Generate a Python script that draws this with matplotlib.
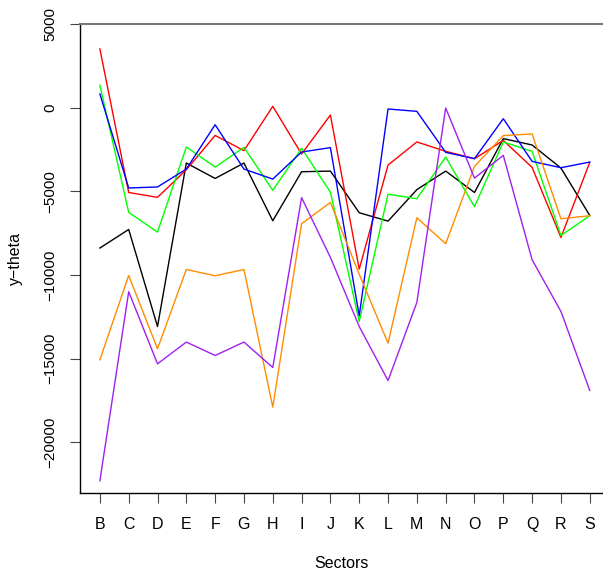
import matplotlib

matplotlib.use("Agg")
import matplotlib.pyplot as plt

plt.rcParams["font.family"] = ["Liberation Sans", "DejaVu Sans"]

sectors = ["B", "C", "D", "E", "F", "G", "H", "I", "J",
           "K", "L", "M", "N", "O", "P", "Q", "R", "S"]

black = [-8390, -7280, -13080, -3310, -4230, -3310, -6760, -3830, -3790,
         -6280, -6780, -4900, -3790, -5070, -1850, -2230, -3610, -6440]
red = [3510, -5070, -5360, -3710, -1660, -2570, 80, -2770, -440,
       -9650, -3430, -2050, -2610, -3050, -1960, -3570, -7760, -3270]
green = [1340, -6260, -7440, -2350, -3550, -2370, -4940, -2430, -5050,
         -12780, -5170, -5440, -2950, -5920, -2050, -2610, -7640, -6460]
blue = [820, -4800, -4740, -3670, -1020, -3670, -4270, -2650, -2390,
        -12440, -80, -220, -2670, -3050, -660, -3210, -3590, -3250]
orange = [-15070, -10030, -14410, -9670, -10050, -9670, -17900, -6940, -5660,
          -9950, -14070, -6580, -8130, -3510, -1670, -1570, -6640, -6460]
purple = [-22300, -11000, -15310, -14010, -14810, -14010, -15530, -5380, -8950,
          -13080, -16310, -11640, -20, -4210, -2850, -9090, -12180, -16900]

series = [
    (black, "black"),
    (red, "#FF0000"),
    (green, "#00FF00"),
    (blue, "#0000FF"),
    (orange, "#FF8C00"),
    (purple, "#A020F0"),
]

fig = plt.figure(figsize=(6.03, 5.71), dpi=100)
ax = fig.add_axes([80 / 603, 78 / 571, 523 / 603, 469 / 571])

x = list(range(len(sectors)))
for values, color in series:
    ax.plot(x, values, color=color, linewidth=1.0)

ax.set_xlim(-0.69, 17.46)
ax.set_ylim(-23030, 5000)

ax.set_xticks(x)
ax.set_xticklabels(sectors)
ax.set_yticks([5000, 0, -5000, -10000, -15000, -20000])
ax.tick_params(axis="x", length=7.2, width=0.8, color="#444444", pad=10, labelsize=11.5)
ax.tick_params(axis="y", length=7.2, width=0.8, color="#444444", pad=9, labelsize=11)
for lbl in ax.get_yticklabels():
    lbl.set_rotation(90)
    lbl.set_va("center")

ax.spines["right"].set_visible(False)
ax.spines["top"].set_color("#777777")
ax.spines["top"].set_linewidth(1.5)
ax.spines["left"].set_linewidth(1.0)
ax.spines["bottom"].set_linewidth(1.0)

ax.set_xlabel("Sectors", fontsize=11.5, labelpad=17.5)
ax.set_ylabel("y\u2212theta", fontsize=11.5, labelpad=15)

fig.savefig("out.png", dpi=100)
